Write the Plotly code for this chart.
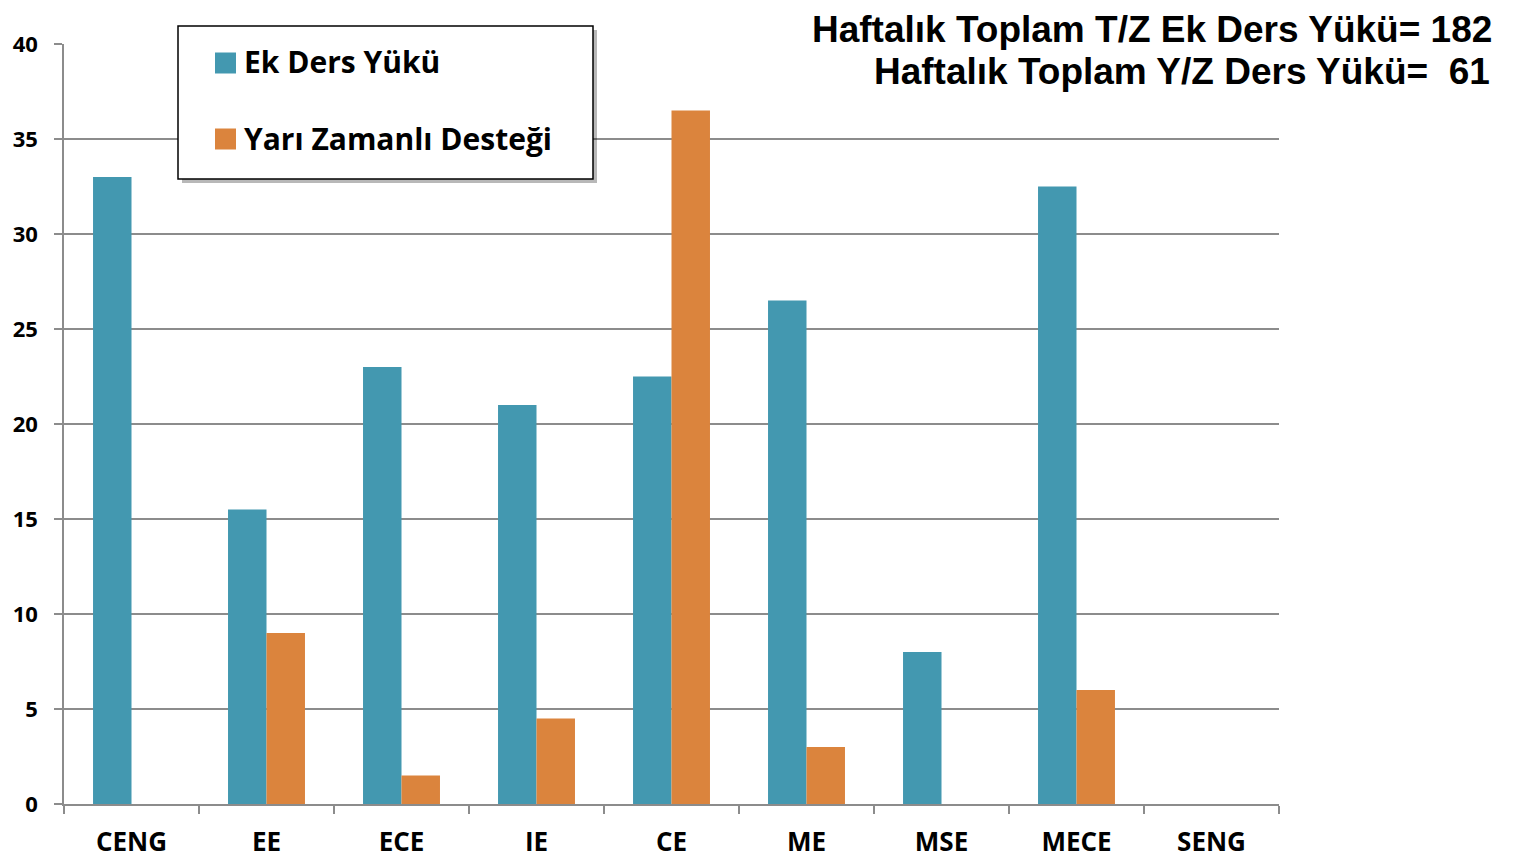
import plotly.graph_objects as go

categories = ["CENG", "EE", "ECE", "IE", "CE", "ME", "MSE", "MECE", "SENG"]
ek_ders = [33, 15.5, 23, 21, 22.5, 26.5, 8, 32.5, 0]
yari_zamanli = [0, 9, 1.5, 4.5, 36.5, 3, 0, 6, 0]
series_names = ["Ek Ders Yükü", "Yarı Zamanlı Desteği"]
title_lines = ["Haftalık Toplam T/Z Ek Ders Yükü= 182", "Haftalık Toplam Y/Z Ders Yükü=  61"]
y_ticks = [0, 5, 10, 15, 20, 25, 30, 35, 40]

blue = "#4398B0"
orange = "#DB843D"
grid = "#8C8C8C"
colors = [blue, orange]

OFF = 7  # page offset of the figure div (body margin)
W, H = 1514 - OFF, 859 - OFF
PX0, PX1, PY0, PY1 = 63, 1278, 43, 803  # plot area in page pixels
L, T = PX0 - OFF, PY0 - OFF
PW, PH = PX1 - PX0, PY1 - PY0
R, B = W - L - PW, H - T - PH


def px(x):
    return (x - PX0) / PW


def py(y):
    return (PY1 - y) / PH


fig = go.Figure()
fig.add_trace(go.Bar(x=categories, y=ek_ders, name=series_names[0], marker_color=blue,
                     marker_line_width=0, showlegend=False))
fig.add_trace(go.Bar(x=categories, y=yari_zamanli, name=series_names[1], marker_color=orange,
                     marker_line_width=0, showlegend=False))

font_body = "Open Sans"
fig.update_layout(
    width=W, height=H,
    margin=dict(l=L, r=R, t=T, b=B, autoexpand=False),
    paper_bgcolor="white", plot_bgcolor="white",
    barmode="group", bargap=0.43, bargroupgap=0,
    showlegend=False,
    xaxis=dict(type="category", tickson="boundaries", ticks="outside", ticklen=8,
               tickcolor=grid, tickwidth=1.5, showline=True, linecolor=grid, linewidth=1.5,
               showgrid=False, automargin=False, ticklabelstandoff=14,
               tickfont=dict(family=font_body, size=26, color="black", weight="bold"),
               range=[-0.5, 8.5]),
    yaxis=dict(range=[0, 40], tickvals=y_ticks, ticktext=[str(v) for v in y_ticks],
               ticks="outside", ticklen=8, tickcolor=grid, tickwidth=1.5,
               showline=True, linecolor=grid, linewidth=1.5, automargin=False,
               showgrid=True, gridcolor=grid, gridwidth=1.5, zeroline=False,
               ticklabelstandoff=12,
               tickfont=dict(family=font_body, size=22, color="black", weight="bold")),
)

# manual legend: shadow, box, swatches, labels
lx0, lx1, ly0, ly1 = 177, 592, 25, 178
fig.add_shape(type="rect", xref="paper", yref="paper", layer="above",
              x0=px(lx0 + 4), x1=px(lx1 + 4), y0=py(ly1 + 4), y1=py(ly0 + 4),
              fillcolor="rgba(0,0,0,0.28)", line_width=0)
fig.add_shape(type="rect", xref="paper", yref="paper", layer="above",
              x0=px(lx0), x1=px(lx1), y0=py(ly1), y1=py(ly0),
              fillcolor="white", line=dict(color="black", width=1.5))
for i, (name, c) in enumerate(zip(series_names, colors)):
    cy = 62 + 76 * i
    fig.add_shape(type="rect", xref="paper", yref="paper", layer="above",
                  x0=px(214), x1=px(235), y0=py(cy + 10.5), y1=py(cy - 10.5),
                  fillcolor=c, line_width=0)
    fig.add_annotation(text=name, xref="paper", yref="paper", x=px(241), y=py(cy - 1),
                       xanchor="left", yanchor="middle", showarrow=False,
                       font=dict(family=font_body, size=30, color="black", weight="bold"))

for i, line in enumerate(title_lines):
    fig.add_annotation(text=line, xref="paper", yref="paper", x=px(1492 - 2 * i),
                       y=py(28 + 42 * i), xanchor="right", yanchor="middle",
                       showarrow=False, borderpad=0,
                       font=dict(family="Liberation Sans", size=37, color="black", weight="bold"))

fig.write_html("out.html")
